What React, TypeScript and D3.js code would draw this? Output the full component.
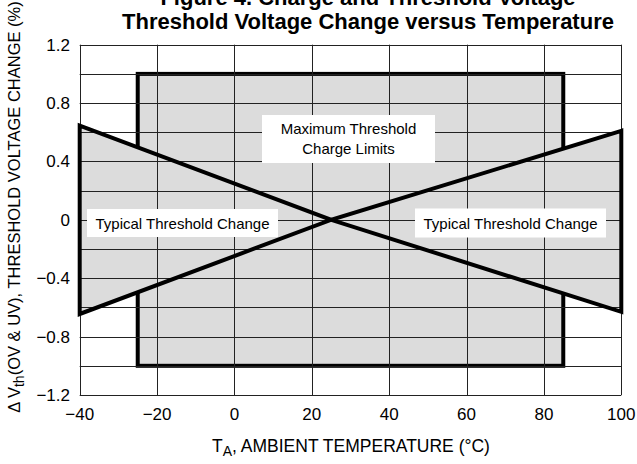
import React from 'react'
import * as d3 from 'd3'

const xTicks = [-40, -20, 0, 20, 40, 60, 80, 100]
const yTicks = [-1.2, -0.8, -0.4, 0, 0.4, 0.8, 1.2]
const yGrid = [-1.2, -1.0, -0.8, -0.6, -0.4, -0.2, 0, 0.2, 0.4, 0.6, 0.8, 1.0, 1.2]

// max threshold charge limits box: [temp, change]
const limitBox = [[-25, -1.0], [85, 1.0]]
// typical change triangles
const leftTriangle = [[-40, 0.645], [25, 0], [-40, -0.645]]
const rightTriangle = [[100, 0.61], [25, 0], [100, -0.63]]

const fmt = (v: number) => (v === 0 ? '0' : d3.format('.1f')(v).replace('-', '\u2212'))
const fmtX = (v: number) => String(v).replace('-', '\u2212')

export default function App() {
  const width = 637
  const height = 464
  const x = d3.scaleLinear().domain([-40, 100]).range([79.7, 621.3])
  const y = d3.scaleLinear().domain([-1.2, 1.2]).range([395, 44.7])
  const line = d3.line<number[]>().x(d => x(d[0])).y(d => y(d[1])).curve(d3.curveLinearClosed)

  const font = 'Arial, "Liberation Sans", Helvetica, sans-serif'
  const bx0 = x(limitBox[0][0]), bx1 = x(limitBox[1][0])
  const by0 = y(limitBox[1][1]), by1 = y(limitBox[0][1])

  return (
    <svg width={width} height={height} style={{ position: 'absolute', left: 0, top: 0 }} fontFamily={font}>
      <rect width={width} height={height} fill="#fff" />
      {/* title (first line is cut off at the top) */}
      <text x={368} y={5} textAnchor="middle" fontSize={22} fontWeight="bold" fill="#000">
        Figure 4. Charge and Threshold Voltage
      </text>
      <text x={368} y={29} textAnchor="middle" fontSize={22} fontWeight="bold" fill="#000">
        Threshold Voltage Change versus Temperature
      </text>

      {/* limits box fill + outline */}
      <rect x={bx0} y={by0} width={bx1 - bx0} height={by1 - by0} fill="#dcdcdc" stroke="#000" strokeWidth={4} />

      {/* triangle fills */}
      <path d={line(leftTriangle) || ''} fill="#dcdcdc" />
      <path d={line(rightTriangle) || ''} fill="#dcdcdc" />

      {/* grid */}
      <g stroke="#222" strokeWidth={1}>
        {yGrid.map(v => (
          <line key={'h' + v} x1={x(-40)} x2={x(100)} y1={Math.round(y(v)) + 0.5} y2={Math.round(y(v)) + 0.5} />
        ))}
        {xTicks.map(v => (
          <line key={'v' + v} x1={Math.round(x(v)) + 0.5} x2={Math.round(x(v)) + 0.5} y1={y(1.2)} y2={y(-1.2)} />
        ))}
      </g>

      {/* triangle outlines */}
      <path d={line(leftTriangle) || ''} fill="none" stroke="#000" strokeWidth={4} strokeLinejoin="miter" />
      <path d={line(rightTriangle) || ''} fill="none" stroke="#000" strokeWidth={4} strokeLinejoin="miter" />

      {/* annotation labels */}
      <g fontSize={15} fill="#000">
        <rect x={262} y={115} width={173} height={48} fill="#fff" />
        <text x={348.5} y={134} textAnchor="middle">Maximum Threshold</text>
        <text x={348.5} y={154} textAnchor="middle">Charge Limits</text>

        <rect x={87} y={209} width={191} height={28} fill="#fff" />
        <text x={182.5} y={228.5} textAnchor="middle">Typical Threshold Change</text>

        <rect x={415} y={208.5} width={191} height={29} fill="#fff" />
        <text x={510.5} y={228.5} textAnchor="middle">Typical Threshold Change</text>
      </g>

      {/* y tick labels */}
      <g fontSize={17} fill="#000" textAnchor="end">
        {yTicks.map(v => (
          <text key={'yt' + v} x={70} y={y(v) + 6}>{fmt(v)}</text>
        ))}
      </g>
      {/* x tick labels */}
      <g fontSize={17} fill="#000" textAnchor="middle">
        {xTicks.map(v => (
          <text key={'xt' + v} x={x(v)} y={420}>{fmtX(v)}</text>
        ))}
      </g>

      {/* axis titles */}
      <text x={351} y={452} textAnchor="middle" fontSize={17.5} fill="#000">
        T<tspan fontSize={14} dy={4}>A</tspan><tspan dy={-4}>, AMBIENT TEMPERATURE (°C)</tspan>
      </text>
      <text transform="translate(20,207) rotate(-90)" textAnchor="middle" fontSize={16.5} fill="#000">
        Δ V<tspan fontSize={14} dy={4}>th</tspan><tspan dy={-4}>(OV &amp; UV), THRESHOLD VOLTAGE CHANGE (%)</tspan>
      </text>
    </svg>
  )
}
